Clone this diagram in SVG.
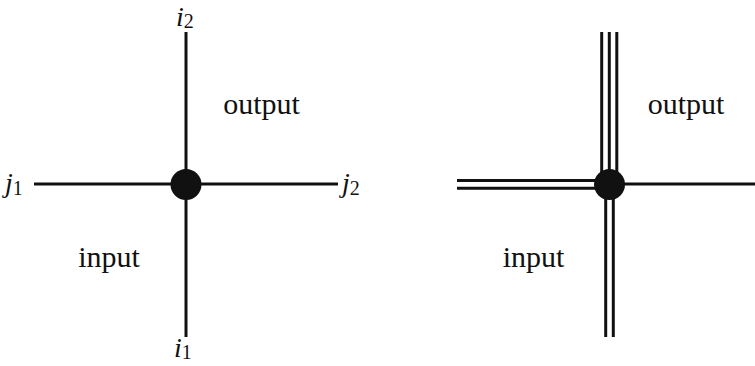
<svg xmlns="http://www.w3.org/2000/svg" width="755" height="366" viewBox="0 0 755 366">
<style>
.ln{stroke:#111;stroke-width:3;fill:none}
.nd{fill:#111}
.lb{font-family:"Liberation Serif","DejaVu Serif",serif;font-size:30px;fill:#111}
.mi{font-family:"Liberation Serif","DejaVu Serif",serif;font-style:italic;font-size:28px;fill:#111}
.sb{font-style:normal;font-size:20px}
</style>
<rect width="755" height="366" fill="#fff"/>
<g id="connectors">
<line class="ln" x1="186" y1="32" x2="186" y2="184"/>
<line class="ln" x1="186" y1="184" x2="186" y2="337"/>
<line class="ln" x1="34" y1="184" x2="186" y2="184"/>
<line class="ln" x1="186" y1="184" x2="338" y2="184"/>
<line class="ln" x1="601.7" y1="32" x2="601.7" y2="184"/>
<line class="ln" x1="609.3" y1="32" x2="609.3" y2="184"/>
<line class="ln" x1="616.8" y1="32" x2="616.8" y2="184"/>
<line class="ln" x1="605.7" y1="184" x2="605.7" y2="337"/>
<line class="ln" x1="613.3" y1="184" x2="613.3" y2="337"/>
<line class="ln" x1="457" y1="180.5" x2="610" y2="180.5"/>
<line class="ln" x1="457" y1="188.3" x2="610" y2="188.3"/>
<line class="ln" x1="610" y1="184" x2="755" y2="184"/>
</g>
<g id="vertex-left">
<circle class="nd" cx="186" cy="184.5" r="15.5"/>
</g>
<g id="vertex-right">
<circle class="nd" cx="609.5" cy="184.5" r="15.5"/>
</g>
<g id="labels-left">
<text class="mi" x="176" y="26">i<tspan class="sb" dy="2">2</tspan></text>
<text class="mi" x="174" y="357">i<tspan class="sb" dy="2">1</tspan></text>
<text class="mi" x="5" y="192">j<tspan class="sb" dy="3">1</tspan></text>
<text class="mi" x="342" y="192">j<tspan class="sb" dy="3">2</tspan></text>
<text class="lb" x="261.5" y="114" text-anchor="middle">output</text>
<text class="lb" x="109" y="267" text-anchor="middle">input</text>
</g>
<g id="labels-right">
<text class="lb" x="686" y="114" text-anchor="middle">output</text>
<text class="lb" x="533.5" y="267" text-anchor="middle">input</text>
</g>
</svg>
